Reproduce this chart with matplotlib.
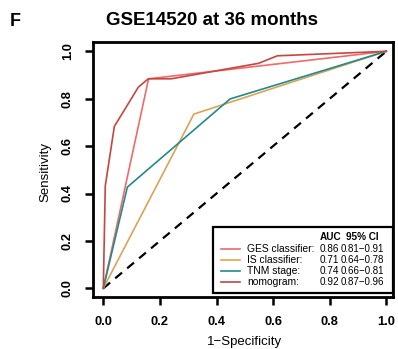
import matplotlib
matplotlib.use("Agg")
import matplotlib.pyplot as plt
from matplotlib.patches import Rectangle

plt.rcParams['font.family'] = ['Liberation Sans', 'DejaVu Sans']

# ROC curves (1-specificity, sensitivity)
ges_fpr = [0.0, 0.16, 1.0]
ges_tpr = [0.0, 0.884, 1.0]
is_fpr = [0.0, 0.32, 1.0]
is_tpr = [0.0, 0.735, 1.0]
tnm_fpr = [0.0, 0.085, 0.448, 1.0]
tnm_tpr = [0.0, 0.427, 0.799, 1.0]
nomo_fpr = [0.0, 0.007, 0.039, 0.124, 0.159, 0.24, 0.548, 0.615, 1.0]
nomo_tpr = [0.0, 0.432, 0.683, 0.849, 0.884, 0.884, 0.949, 0.981, 1.0]

names = ['GES classifier:', 'IS classifier:', 'TNM stage:', 'nomogram:']
auc = ['0.86', '0.71', '0.74', '0.92']
ci = ['0.81\u22120.91', '0.64\u22120.78', '0.66\u22120.81', '0.87\u22120.96']
colors = ['#F06A6A', '#D9A456', '#23898A', '#C4473F']
ticks = [0.0, 0.2, 0.4, 0.6, 0.8, 1.0]

W, H = 398, 349
fig = plt.figure(figsize=(W / 100, H / 100), dpi=100)


def fx(px):
    return px / W


def fy(py):
    return 1 - py / H


ax = fig.add_axes([fx(92.5), fy(297), fx(393) - fx(92.5), fy(42) - fy(297)])
ax.set_xlim((92.5 - 103.3) / 283, (393 - 103.3) / 283)
ax.set_ylim((288.3 - 297) / 237, (288.3 - 42) / 237)

ax.plot([0, 1], [0, 1], color='black', lw=1.6, ls=(0, (4, 3)), zorder=1)
curves = [(ges_fpr, ges_tpr), (is_fpr, is_tpr), (tnm_fpr, tnm_tpr), (nomo_fpr, nomo_tpr)]
for (x, y), c in zip(curves, colors):
    ax.plot(x, y, color=c, lw=1.2, zorder=2)

for s in ax.spines.values():
    s.set_linewidth(2.0)
ax.set_xticks(ticks)
ax.set_yticks(ticks)
ax.set_xticklabels(['%.1f' % t for t in ticks], fontsize=9.3, fontweight='bold')
ax.set_yticklabels(['%.1f' % t for t in ticks], fontsize=9.3, fontweight='bold',
                   rotation=90, va='center')
ax.tick_params(width=1.8, length=6)
ax.tick_params(axis='x', pad=8)
ax.tick_params(axis='y', pad=7.5)

fig.text(fx(245), fy(341.5), '1\u2212Specificity', fontsize=9.5, ha='center', va='center')
fig.text(fx(45), fy(171.5), 'Sensitivity', fontsize=9.5, ha='center', va='center',
         rotation=90)
fig.text(fx(211.5), fy(20.5), 'GSE14520 at 36 months', fontsize=13.5, fontweight='bold',
         ha='center', va='center')
fig.text(fx(10), fy(21), 'F', fontsize=13, fontweight='bold', ha='left', va='center')

# legend box
fig.patches.append(Rectangle((fx(213), fy(292.5)), fx(392.5) - fx(213), fy(226.5) - fy(292.5),
                             transform=fig.transFigure, fill=True, facecolor='white',
                             edgecolor='black', lw=1.6, zorder=5))
fig.text(fx(320), fy(237.3), 'AUC', fontsize=7.2, fontweight='bold', va='center', zorder=6)
fig.text(fx(346.5), fy(237.3), '95% CI', fontsize=7.2, fontweight='bold', va='center', zorder=6)
for i, (n, a, c, col) in enumerate(zip(names, auc, ci, colors)):
    yy = 249.3 + i * 10.8
    fig.lines.append(plt.Line2D([fx(220.5), fx(240)], [fy(yy), fy(yy)], color=col, lw=1.2,
                                transform=fig.transFigure, zorder=6))
    fig.text(fx(247.3), fy(yy), n, fontsize=7.4, va='center', zorder=6)
    fig.text(fx(320), fy(yy), a, fontsize=7.2, va='center', zorder=6)
    fig.text(fx(341), fy(yy), c, fontsize=7.0, va='center', zorder=6)

fig.savefig('out.png', dpi=100)
